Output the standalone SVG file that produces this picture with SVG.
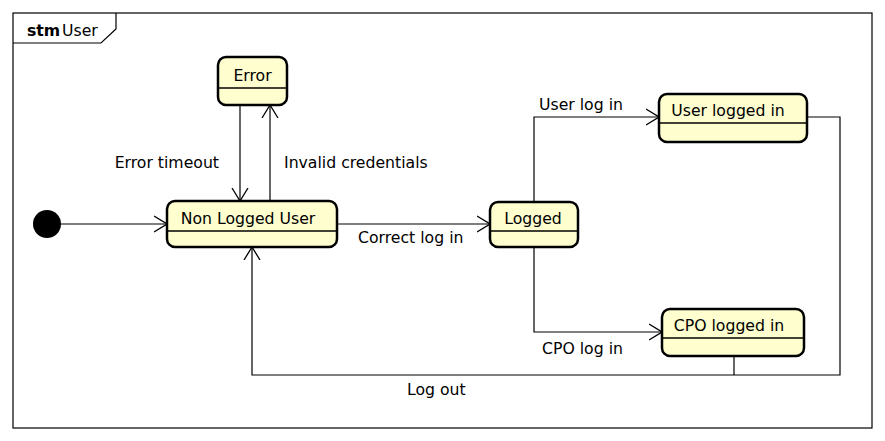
<svg xmlns="http://www.w3.org/2000/svg" width="885" height="441" viewBox="0 0 885 441">
<defs>
<style>
.st{fill:#FEFECE;stroke:#000;stroke-width:2.5}
.dv{stroke:#000;stroke-width:1.5}
.ln{fill:none;stroke:#000;stroke-width:1.2}
.t{font-family:"DejaVu Sans",sans-serif;font-size:15.7px;fill:#000}
</style>
<marker id="ah" viewBox="0 0 14 18" refX="13" refY="9" markerWidth="14" markerHeight="18" markerUnits="userSpaceOnUse" orient="auto">
<path d="M0,1 L13,9 L0,17" fill="none" stroke="#000" stroke-width="1.3"/>
</marker>
</defs>
<rect width="885" height="441" fill="#fff"/>
<g id="frame">
<rect x="13" y="13" width="859" height="415" fill="none" stroke="#000" stroke-width="1.2"/>
<path d="M13,43 L101,43 L116,29 L116,13" fill="none" stroke="#000" stroke-width="1.2"/>
<text x="27" y="36" class="t" font-weight="bold">stm</text><text x="62" y="36" class="t">User</text>
</g>
<g id="connectors">
<path class="ln" d="M61,224 L167,224" marker-end="url(#ah)"/>
<path class="ln" d="M240,105 L240,201" marker-end="url(#ah)"/>
<path class="ln" d="M270,201 L270,105" marker-end="url(#ah)"/>
<path class="ln" d="M337,224 L490,224" marker-end="url(#ah)"/>
<path class="ln" d="M534,202 L534,117 L659,117" marker-end="url(#ah)"/>
<path class="ln" d="M534,247 L534,332 L662,332" marker-end="url(#ah)"/>
<path class="ln" d="M807,117 L840,117 L840,375 L252,375 L252,247" marker-end="url(#ah)"/>
<path class="ln" d="M734,356 L734,375"/>
<text x="219" y="168" class="t" text-anchor="end">Error timeout</text>
<text x="284" y="168" class="t">Invalid credentials</text>
<text x="358" y="243" class="t">Correct log in</text>
<text x="539" y="110" class="t">User log in</text>
<text x="542" y="354" class="t">CPO log in</text>
<text x="407" y="395" class="t">Log out</text>
</g>
<g id="initial"><circle cx="47" cy="224" r="14" fill="#000"/></g>
<g id="error">
<rect class="st" x="218" y="57" width="69" height="48" rx="8"/>
<line class="dv" x1="218" y1="88" x2="287" y2="88"/>
<text x="252.5" y="81" class="t" text-anchor="middle">Error</text>
</g>
<g id="nonlogged">
<rect class="st" x="167" y="201" width="170" height="46" rx="8"/>
<line class="dv" x1="167" y1="231" x2="337" y2="231"/>
<text x="248" y="224" class="t" text-anchor="middle">Non Logged User</text>
</g>
<g id="logged">
<rect class="st" x="490" y="202" width="88" height="45" rx="8"/>
<line class="dv" x1="490" y1="231" x2="578" y2="231"/>
<text x="533" y="224" class="t" text-anchor="middle">Logged</text>
</g>
<g id="userloggedin">
<rect class="st" x="659" y="94" width="148" height="48" rx="8"/>
<line class="dv" x1="659" y1="123" x2="807" y2="123"/>
<text x="728" y="116" class="t" text-anchor="middle">User logged in</text>
</g>
<g id="cpologgedin">
<rect class="st" x="662" y="309" width="142" height="47" rx="8"/>
<line class="dv" x1="662" y1="338" x2="804" y2="338"/>
<text x="729" y="331" class="t" text-anchor="middle">CPO logged in</text>
</g>
</svg>
